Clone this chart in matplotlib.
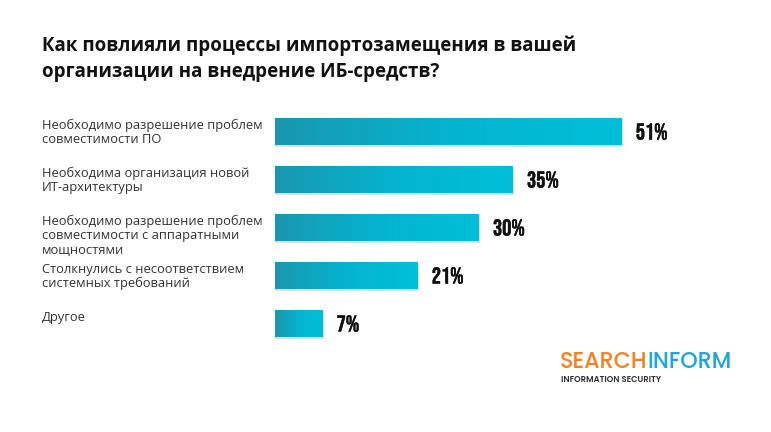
import numpy as np
import matplotlib.pyplot as plt
import matplotlib.transforms as mtransforms
import matplotlib.patheffects as pe
from matplotlib.colors import LinearSegmentedColormap

title = "Как повлияли процессы импортозамещения в вашей\nорганизации на внедрение ИБ-средств?"
categories = [
    "Необходимо разрешение проблем\nсовместимости ПО",
    "Необходима организация новой\nИТ-архитектуры",
    "Необходимо разрешение проблем\nсовместимости с аппаратными\nмощностями",
    "Столкнулись с несоответствием\nсистемных требований",
    "Другое",
]
values = [51, 35, 30, 21, 7]

W, H = 771, 432
fig = plt.figure(figsize=(W / 100, H / 100), dpi=100)
fig.patch.set_facecolor("white")

# axes placed so that 0% is at x=275px and 1% = 6.8px
px_per_pct = 6.8
xmax = 60
ax_top = 107.5
ax_bot = 347.5
ax = fig.add_axes([275 / W, 1 - ax_bot / H, xmax * px_per_pct / W, (ax_bot - ax_top) / H])
ax.axis("off")

cmap = LinearSegmentedColormap.from_list("bar", ["#1a97b0", "#05b4cf", "#00bfd8"])
grad = np.linspace(0, 1, 256).reshape(1, -1)
bh = 0.56

for i, v in enumerate(values):
    # soft shadow under the bar
    ax.barh(i + 0.04, v + 0.2, height=bh, color="#b9c4c8", alpha=0.55, zorder=1)
    ax.imshow(grad, cmap=cmap, aspect="auto", extent=[0, v, i + bh / 2, i - bh / 2],
              zorder=2, interpolation="bicubic")
    ax.text(v + 14 / px_per_pct, i, f"{v}%", va="center", ha="left",
            fontsize=16.5, fontfamily=["Bebas Neue", "DejaVu Sans"],
            color="#111111", zorder=3,
            path_effects=[pe.withStroke(linewidth=0.3, foreground="#111111")])
ax.set_xlim(0, xmax)
ax.set_ylim(len(values) - 0.5, -0.5)

# category labels on the left
trans = mtransforms.blended_transform_factory(fig.transFigure, ax.transData)
for i, c in enumerate(categories):
    ax.text(42 / W, i - bh / 2 + 0.01, c, transform=trans, ha="left", va="top",
            fontsize=9.3, fontfamily="Open Sans", color="#333333", linespacing=1.15)

fig.text(42 / W, 1 - 35 / H, title, ha="left", va="top", fontsize=13.5,
         fontweight="bold", fontfamily="Open Sans", color="#111111", linespacing=1.45)

# logo
logo_font = ["Poppins", "DejaVu Sans"]
t1 = fig.text(560 / W, 1 - 363 / H, "SEARCH", ha="left", va="center", fontsize=16,
              fontfamily=logo_font, fontweight="medium", color="#f58220")
fig.canvas.draw()
bb = t1.get_window_extent()
fig.text(bb.x1 / W, 1 - 363 / H, "INFORM", ha="left", va="center", fontsize=16,
         fontfamily=logo_font, fontweight="medium", color="#1ea5dc")
fig.text(561 / W, 1 - 380 / H, "INFORMATION SECURITY", ha="left", va="center", fontsize=6,
         fontfamily=logo_font, fontweight="semibold", color="#333333")

fig.savefig("out.png", dpi=100, facecolor="white")
